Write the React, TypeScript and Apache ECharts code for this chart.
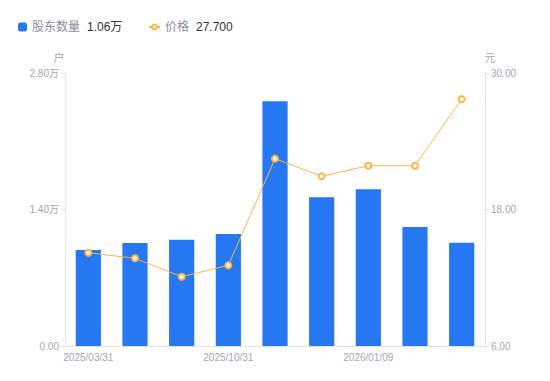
import React, { useEffect, useRef } from "react";
import * as echarts from "echarts";

const categories = [
  "2025/03/31", "2025/06/30", "2025/09/30", "2025/10/31", "2025/11/20",
  "2025/12/10", "2026/01/09", "2026/01/20", "2026/01/30",
];
const holders = [9850, 10560, 10900, 11490, 25100, 15250, 16070, 12200, 10600];
const prices = [14.2, 13.71, 12.09, 13.09, 22.47, 20.92, 21.85, 21.85, 27.7];
const leftTicks = [0, 14000, 28000];
const rightTicks = [6, 18, 30];

const FONT = "'Liberation Sans', Arial, 'Noto Sans CJK SC', sans-serif";
const GREY = "#A3A6B4";
const BLUE = "#2677F2";
const ORANGE = "#FFB443";

const rich = {
  n: { color: "#8A8D99", fontSize: 12, fontFamily: FONT },
  v: { color: "#333333", fontSize: 12, fontFamily: FONT, padding: [0, 0, 0, 7] },
};

export default function App() {
  const ref = useRef<HTMLDivElement>(null);
  useEffect(() => {
    if (!ref.current) return;
    const chart = echarts.init(ref.current, undefined, { renderer: "svg" });
    const lastH = holders[holders.length - 1];
    const lastP = prices[prices.length - 1];
    chart.setOption({
      animation: false,
      textStyle: { fontFamily: FONT },
      legend: [
        {
          left: 13,
          top: 16,
          itemWidth: 9,
          itemHeight: 9,
          itemGap: 24,
          textStyle: { fontFamily: FONT, fontSize: 12, rich },
          formatter: (name: string) => `{n|${name}}{v|${(lastH / 10000).toFixed(2)}万}`,
          data: [{ name: "股东数量", icon: "roundRect" }],
        },
        {
          left: 143,
          top: 16,
          itemWidth: 11,
          itemHeight: 6,
          textStyle: { fontFamily: FONT, fontSize: 12, rich },
          formatter: (name: string) => `{n|${name}}{v|${lastP.toFixed(3)}}`,
          data: [{ name: "价格" }],
        },
      ],
      grid: { left: 65, right: 65, top: 73, bottom: 35 },
      xAxis: {
        type: "category",
        data: categories,
        axisLine: { lineStyle: { color: "#E3E4E8" } },
        axisTick: { show: false },
        axisLabel: { color: GREY, fontSize: 10, interval: 2, margin: 6, fontFamily: FONT },
      },
      yAxis: [
        {
          type: "value",
          name: "户",
          nameTextStyle: { color: GREY, fontSize: 11, padding: [0, 0, 0, -12], fontFamily: FONT },
          nameGap: 10,
          min: leftTicks[0],
          max: leftTicks[leftTicks.length - 1],
          interval: leftTicks[1] - leftTicks[0],
          axisLine: { show: true, lineStyle: { color: "#E3E4E8" } },
          axisTick: { show: true, length: 4, lineStyle: { color: "#E3E4E8" } },
          splitLine: { show: false },
          axisLabel: {
            color: GREY,
            fontSize: 10,
            margin: 6,
            fontFamily: FONT,
            formatter: (v: number) => (v === 0 ? "0.00" : (v / 10000).toFixed(2) + "万"),
          },
        },
        {
          type: "value",
          name: "元",
          nameTextStyle: { color: GREY, fontSize: 11, padding: [0, 0, 0, 10], fontFamily: FONT },
          nameGap: 10,
          min: rightTicks[0],
          max: rightTicks[rightTicks.length - 1],
          interval: rightTicks[1] - rightTicks[0],
          axisLine: { show: true, lineStyle: { color: "#E3E4E8" } },
          axisTick: { show: true, length: 4, lineStyle: { color: "#E3E4E8" } },
          splitLine: { show: false },
          axisLabel: {
            color: GREY,
            fontSize: 10,
            margin: 6,
            fontFamily: FONT,
            formatter: (v: number) => v.toFixed(2),
          },
        },
      ],
      series: [
        {
          name: "股东数量",
          type: "bar",
          yAxisIndex: 0,
          data: holders,
          barWidth: "54%",
          itemStyle: { color: BLUE },
        },
        {
          name: "价格",
          type: "line",
          yAxisIndex: 1,
          data: prices,
          symbol: "emptyCircle",
          symbolSize: 6,
          lineStyle: { color: ORANGE, width: 1 },
          itemStyle: { color: ORANGE, borderWidth: 2 },
        },
      ],
    });
    return () => chart.dispose();
  }, []);
  return <div ref={ref} style={{ width: 550, height: 381, margin: -8 }} />;
}
